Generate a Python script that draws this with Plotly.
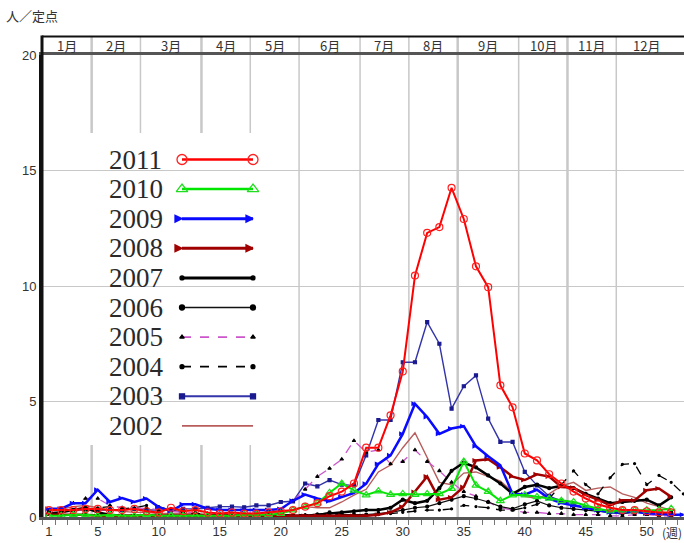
import plotly.graph_objects as go

weeks = list(range(1, 54))

y2011 = [0.3,0.3,0.3,0.35,0.35,0.3,0.3,0.35,0.25,0.2,0.4,0.25,0.3,0.2,0.15,0.2,0.15,0.15,0.2,0.25,
         0.3,0.45,0.6,0.9,1.1,1.45,3.0,3.0,4.4,6.3,10.45,12.3,12.55,14.25,12.9,10.85,9.95,5.7,4.75,2.75,
         2.45,1.85,1.45,1.1,0.8,0.55,0.4,0.3,0.3,0.25,0.2,0.2]
y2010 = [0.05,0.05,0.1,0.1,0.05,0.1,0.05,0.05,0.1,0.05,0.05,0.05,0.05,0.05,0.05,0.05,0.1,0.1,0.1,0.15,
         0.3,0.45,0.6,1.05,1.45,1.15,0.95,1.12,0.97,1.0,0.97,1.0,1.0,1.23,2.4,1.37,1.1,0.7,0.95,0.95,
         0.87,0.8,0.7,0.65,0.5,0.36,0.26,0.29,0.29,0.29,0.3,0.36]
y2009 = [0.36,0.36,0.6,0.6,1.18,0.65,0.82,0.65,0.8,0.43,0.26,0.55,0.55,0.36,0.3,0.3,0.28,0.3,0.3,0.35,
         0.7,0.97,0.8,0.68,0.87,1.04,1.44,2.3,2.67,3.6,4.9,4.33,3.6,3.83,3.93,3.06,2.63,2.24,1.0,0.97,
         1.18,0.8,0.6,0.5,0.4,0.3,0.2,0.2,0.25,0.15,0.15,0.1,0.1]
y2008 = [0.1,0.1,0.1,0.1,0.05,0.05,0.05,0.05,0.05,0.05,0.05,0.05,0.05,0.05,0.05,0.05,0.05,0.05,0.05,0.05,
         0.05,0.05,0.05,0.05,0.05,0.05,0.05,0.1,0.2,0.45,1.08,1.75,0.75,0.85,1.3,2.45,2.5,2.15,1.75,1.6,
         1.85,1.75,1.3,1.27,0.95,0.75,0.5,0.72,0.72,1.16,1.23,0.87]
y2007 = [0.15,0.2,0.3,0.4,0.2,0.1,0.05,0.05,0.05,0.05,0.05,0.05,0.05,0.05,0.05,0.05,0.05,0.05,0.05,0.05,
         0.05,0.05,0.1,0.15,0.2,0.25,0.3,0.3,0.4,0.75,0.6,0.7,1.25,2.0,2.35,2.15,1.8,1.45,1.0,1.3,
         1.4,1.25,1.35,1.25,1.0,0.8,0.6,0.65,0.7,0.75,0.5,0.85]
y2006 = [0.15,0.1,0.1,0.1,0.1,0.05,0.05,0.05,0.05,0.05,0.05,0.05,0.05,0.05,0.05,0.05,0.05,0.05,0.05,0.05,
         0.05,0.05,0.1,0.2,0.1,0.1,0.1,0.15,0.2,0.3,0.4,0.45,0.6,0.75,0.9,0.8,0.65,0.45,0.35,0.55,
         0.7,0.5,0.4,0.35,0.3,0.25,0.2,0.15,0.2,0.2,0.15,0.2]
y2005 = [0.3,0.35,0.6,0.8,0.8,0.5,0.4,0.35,0.4,0.3,0.25,0.2,0.2,0.15,0.15,0.15,0.15,0.2,0.2,0.3,
         0.7,1.2,1.75,2.1,2.5,3.3,2.8,2.9,2.3,2.4,2.9,2.4,2.0,1.5,1.1,0.9,0.65,0.4,0.3,0.2,
         0.2,0.15,0.15,0.1,0.1,0.1,0.05,0.05,0.1,0.1,0.05,0.05]
y2004 = [0.2,0.2,0.3,0.3,0.4,0.45,0.35,0.4,0.5,0.45,0.3,0.2,0.15,0.15,0.1,0.1,0.1,0.1,0.1,0.1,
         0.1,0.1,0.1,0.15,0.1,0.1,0.1,0.1,0.15,0.2,0.25,0.3,0.3,0.35,0.5,0.45,0.4,0.3,0.3,0.4,
         0.55,0.8,1.4,2.0,1.4,1.0,1.7,2.28,2.31,1.4,1.8,1.5,1.0]
y2003 = [0.3,0.35,0.3,0.3,0.3,0.3,0.3,0.35,0.3,0.3,0.3,0.35,0.35,0.4,0.45,0.45,0.42,0.5,0.5,0.65,
         0.68,1.45,1.33,1.6,1.4,1.37,2.67,4.2,4.2,6.7,6.7,8.44,7.5,4.69,5.66,6.13,4.26,3.25,3.25,1.95,
         1.37,0.9,0.7,0.55,0.4,0.3,0.25,0.2,0.2,0.15,0.1,0.1]
y2002 = [0.3,0.35,0.45,0.5,0.4,0.3,0.25,0.2,0.2,0.15,0.15,0.15,0.15,0.1,0.1,0.1,0.1,0.1,0.15,0.2,
         0.3,0.45,0.4,0.4,0.65,0.95,1.2,1.95,2.25,3.0,3.65,2.6,1.5,1.4,1.9,1.95,1.75,1.55,1.1,0.9,
         0.8,1.0,1.35,1.5,1.15,1.25,1.3,1.0,0.85,0.6,0.45,0.3]

years = ["2011","2010","2009","2008","2007","2006","2005","2004","2003","2002"]
series = [y2011,y2010,y2009,y2008,y2007,y2006,y2005,y2004,y2003,y2002]

month_labels = ["1月","2月","3月","4月","5月","6月","7月","8月","9月","10月","11月","12月"]
month_bounds = [0.5,4.5,8.5,13.5,17.5,21.5,26.5,30.5,34.5,39.5,43.5,47.5,52.5]
thick_bounds = [4.5,13.5,34.5,43.5]
xtick_vals = [1,5,10,15,20,25,30,35,40,45,50]
ytick_vals = [0,5,10,15,20]

styles = {
    "2011": dict(c="#ff0000", w=2, dash="solid", sym="circle-open", ms=7, mc="#ff2020", lms=10),
    "2010": dict(c="#00e600", w=2, dash="solid", sym="triangle-up-open", ms=7, mc="#20dd20", lms=10),
    "2009": dict(c="#0a0aff", w=2.5, dash="solid", sym="arrow-right", ms=3, mc="#0a0aff", lms=7),
    "2008": dict(c="#a00000", w=2.5, dash="solid", sym="arrow-right", ms=3, mc="#a00000", lms=7),
    "2007": dict(c="#000000", w=2.5, dash="solid", sym="circle", ms=3, mc="#000000", lms=4),
    "2006": dict(c="#111111", w=1.2, dash="solid", sym="circle", ms=3, mc="#000000", lms=5),
    "2005": dict(c="#cc55cc", w=1.3, dash="dash", sym="triangle-up", ms=3, mc="#000000", lms=4),
    "2004": dict(c="#000000", w=1.3, dash="dash", sym="circle", ms=2, mc="#000000", lms=4),
    "2003": dict(c="#3333aa", w=1.4, dash="solid", sym="square", ms=3, mc="#1a1a90", lms=5),
    "2002": dict(c="#b85c5c", w=1.4, dash="solid", sym=None, ms=0, mc="#b85c5c", lms=0),
}

fig = go.Figure()

for yr, vals in reversed(list(zip(years, series))):
    s = styles[yr]
    mode = "lines+markers" if s["sym"] else "lines"
    marker = dict(symbol=s["sym"], size=s["ms"], color=s["mc"],
                  line=dict(color=s["mc"], width=1.2)) if s["sym"] else None
    fig.add_trace(go.Scatter(x=weeks[:len(vals)], y=vals, mode=mode, name=yr,
                             line=dict(color=s["c"], width=s["w"], dash=s["dash"]),
                             marker=marker, showlegend=False, hoverinfo="skip"))

PLOT_TOP, PLOT_BOT, PLOT_L, PLOT_W = 55, 517, 42, 642
def py2p(py):
    return (PLOT_BOT - py) / (PLOT_BOT - PLOT_TOP)
def px2p(px):
    return (px - PLOT_L) / PLOT_W

row0, rowstep = 159.5, 29.6
lx0, lx1 = px2p(182), px2p(253)
for i, yr in enumerate(years):
    s = styles[yr]
    yy = py2p(row0 + i * rowstep)
    mode = "lines+markers" if s["sym"] else "lines"
    marker = dict(symbol=s["sym"], size=s["lms"], color=s["mc"],
                  line=dict(color=s["mc"], width=1.3)) if s["sym"] else None
    fig.add_trace(go.Scatter(x=[lx0, lx1], y=[yy, yy], mode=mode, xaxis="x2", yaxis="y2",
                             line=dict(color=s["c"], width=s["w"] + 0.5, dash=s["dash"]),
                             marker=marker, showlegend=False, hoverinfo="skip"))

annotations = []
for i, yr in enumerate(years):
    annotations.append(dict(x=px2p(107), y=py2p(row0 + i * rowstep), xref="paper", yref="paper",
                            text=yr, showarrow=False, xanchor="left", yanchor="middle",
                            font=dict(family="Liberation Serif, serif", size=27, color="#2a2a2a")))

HDR = (PLOT_BOT - 36.5) / (PLOT_BOT - PLOT_TOP)
shapes = []
for b in month_bounds[1:-1]:
    shapes.append(dict(type="line", xref="x", yref="paper", x0=b, x1=b, y0=0, y1=HDR,
                       line=dict(color="#c8c8c8", width=2.5 if b in thick_bounds else 1.5),
                       layer="between"))
shapes.append(dict(type="rect", xref="paper", yref="paper", x0=px2p(87), x1=px2p(279),
                   y0=py2p(445), y1=py2p(133), fillcolor="white", line=dict(width=0),
                   layer="between"))
shapes.append(dict(type="line", xref="paper", yref="paper", x0=0, x1=1, y0=HDR, y1=HDR,
                   line=dict(color="#111111", width=2), layer="above"))
shapes.append(dict(type="line", xref="paper", yref="paper", x0=0, x1=0, y0=0, y1=HDR + 0.002,
                   line=dict(color="#111111", width=3), layer="above"))

for i, m in enumerate(month_labels):
    cx = (month_bounds[i] + month_bounds[i + 1]) / 2
    annotations.append(dict(x=cx, y=(1 + HDR) / 2, xref="x", yref="paper", text=m,
                            showarrow=False, xanchor="center", yanchor="middle",
                            font=dict(family="Noto Sans CJK JP", size=13, color="#333")))

annotations.append(dict(x=px2p(4), y=py2p(4), xref="paper", yref="paper", text="人／定点",
                        showarrow=False, xanchor="left", yanchor="top",
                        font=dict(family="Noto Sans CJK JP", size=13, color="#333")))
annotations.append(dict(x=1, y=0, xref="paper", yref="paper", text="(週)", showarrow=False,
                        xanchor="right", yanchor="top", yshift=-5,
                        font=dict(family="Noto Sans CJK JP", size=12, color="#333")))

tickfont = dict(family="Liberation Sans, sans-serif", size=13, color="#333")

fig.update_layout(
    width=684, height=543,
    margin=dict(l=42, r=0, t=55, b=26),
    paper_bgcolor="white", plot_bgcolor="white",
    xaxis=dict(range=[0.43, 53.05], tickmode="array", tickvals=xtick_vals,
               ticktext=[str(v) for v in xtick_vals], ticks="", showgrid=False, zeroline=False,
               showline=True, linecolor="#555555", linewidth=3, mirror=True,
               tickfont=tickfont, automargin=False,
               minor=dict(tickmode="linear", tick0=0.5, dtick=1, ticks="outside", ticklen=5,
                          tickcolor="#777777", tickwidth=1, showgrid=False)),
    yaxis=dict(range=[0, 20], tickmode="array", tickvals=ytick_vals, showgrid=True,
               gridcolor="#c8c8c8", gridwidth=1, zeroline=False, showline=True,
               linecolor="#111111", linewidth=3, ticks="", tickfont=tickfont, automargin=False),
    xaxis2=dict(overlaying="x", anchor="y2", range=[0, 1], visible=False),
    yaxis2=dict(overlaying="y", anchor="x2", range=[0, 1], visible=False),
    shapes=shapes, annotations=annotations, showlegend=False,
)

fig.write_html("out.html", config={"displayModeBar": False},
               post_script="document.body.style.margin='0';document.body.style.padding='0';")
